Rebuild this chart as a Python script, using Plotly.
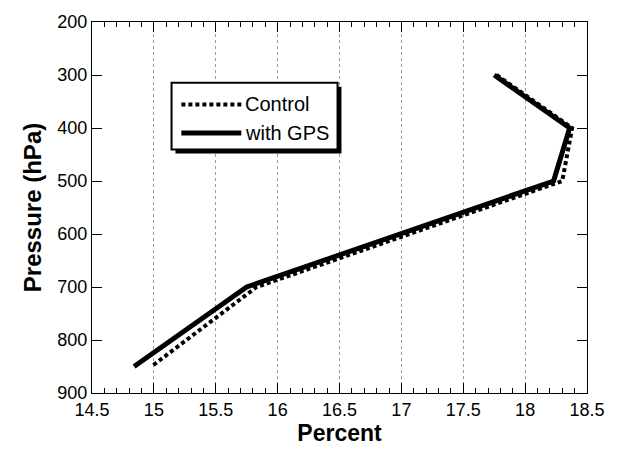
import plotly.graph_objects as go

pressure_levels = [300, 400, 500, 700, 850]
control_pct = [17.77, 18.38, 18.30, 15.83, 14.98]
gps_pct = [17.75, 18.36, 18.23, 15.75, 14.84]

x_ticks = [14.5, 15, 15.5, 16, 16.5, 17, 17.5, 18, 18.5]
y_ticks = [200, 300, 400, 500, 600, 700, 800, 900]
legend_labels = ["Control", "with GPS"]

FONT = "Liberation Sans, Arial, sans-serif"
CONTROL_DASH = "4px,3px"

fig = go.Figure()
fig.add_trace(go.Scatter(
    x=control_pct, y=pressure_levels, mode="lines", name=legend_labels[0],
    line=dict(color="black", width=4, dash=CONTROL_DASH), showlegend=False,
))
fig.add_trace(go.Scatter(
    x=gps_pct, y=pressure_levels, mode="lines", name=legend_labels[1],
    line=dict(color="black", width=5), showlegend=False,
))

L, R, T, B = 92, 21, 18, 58
W, H = 617, 454
pw, ph = W - L - R, H - T - B


def px(x):
    return (x - L) / pw


def py(y):
    return 1 - (y - T) / ph


fig.update_layout(
    width=W, height=H,
    margin=dict(l=L, r=R, t=T, b=B),
    paper_bgcolor="white", plot_bgcolor="white",
    font=dict(family=FONT, color="black", size=18),
    showlegend=False,
    xaxis=dict(
        range=[x_ticks[0], x_ticks[-1]], tickmode="linear",
        tick0=x_ticks[0], dtick=x_ticks[1] - x_ticks[0],
        ticks="inside", ticklen=10, tickcolor="black", tickwidth=1,
        mirror="allticks", showline=True, linecolor="black", linewidth=1,
        showgrid=True, gridcolor="#9a9a9a", griddash="dot", gridwidth=1,
        zeroline=False,
        minor=dict(dtick=0.1, ticks="inside", ticklen=5, tickcolor="black",
                   tickwidth=1, showgrid=False),
        title=dict(text="<b>Percent</b>", font=dict(size=23, family=FONT), standoff=6),
        tickfont=dict(size=18),
    ),
    yaxis=dict(
        range=[y_ticks[-1], y_ticks[0]], tickmode="linear",
        tick0=y_ticks[0], dtick=y_ticks[1] - y_ticks[0],
        ticks="inside", ticklen=10, tickcolor="black", tickwidth=1,
        mirror="allticks", showline=True, linecolor="black", linewidth=1,
        showgrid=False, zeroline=False,
        title=dict(text="<b>Pressure (hPa)</b>", font=dict(size=24, family=FONT), standoff=8),
        tickfont=dict(size=18),
    ),
)

# hand-built legend box with drop shadow
bx0, by0, bx1, by1 = 173, 80, 342, 148
fig.add_shape(type="rect", xref="paper", yref="paper",
              x0=px(bx0 + 4), x1=px(bx1 + 4), y0=py(by1 + 4), y1=py(by0 + 4),
              fillcolor="black", line=dict(width=0), layer="above")
fig.add_shape(type="rect", xref="paper", yref="paper",
              x0=px(bx0), x1=px(bx1), y0=py(by1), y1=py(by0),
              fillcolor="white", line=dict(color="black", width=2), layer="above")
rows = [(102, dict(color="black", width=4, dash=CONTROL_DASH)),
        (131, dict(color="black", width=5))]
for (yy, ln), lab in zip(rows, legend_labels):
    fig.add_shape(type="line", xref="paper", yref="paper",
                  x0=px(183), x1=px(244), y0=py(yy), y1=py(yy),
                  line=ln, layer="above")
    fig.add_annotation(xref="paper", yref="paper", x=px(246), y=py(yy),
                       xanchor="left", yanchor="middle", text=lab,
                       showarrow=False, font=dict(size=20, family=FONT))

fig.write_html("out.html")
